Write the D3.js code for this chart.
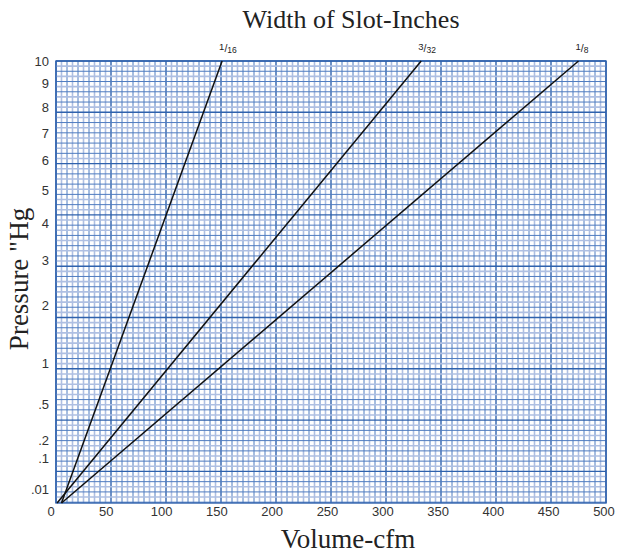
<!DOCTYPE html>
<html><head><meta charset="utf-8">
<script src="https://cdn.jsdelivr.net/npm/d3@7/dist/d3.min.js"></script>
<style>body{margin:0;background:#fff}</style>
</head><body>
<svg id="c" width="617" height="554"></svg>
<script>
// ---- data ----
const xTicks = [0,50,100,150,200,250,300,350,400,450,500];
const yTicks = [10,9,8,7,6,5,4,3,2,1,0.5,0.2,0.1,0.01];
const yTickLabels = ["10","9","8","7","6","5","4","3","2","1",".5",".2",".1",".01"];
const seriesNames = ["1/16","3/32","1/8"];
const labelNum = ["1","3","1"];
const labelDen = ["16","32","8"];
const volStart = [5, 1, 5];      // cfm at 0 "Hg
const volEnd = [151, 332, 475];  // cfm at 10 "Hg
const pEnd = 10;

const svg = d3.select("#c");
const m = {l:56, r:606, t:61, b:503};
const x = d3.scaleLinear().domain([0,500]).range([m.l, m.r]);
const y = d3.scaleSqrt().domain([0,10]).range([m.b, m.t]);

// graph paper grid
const g = svg.append("g");
const vx = d3.range(0, 501, 5);
g.selectAll("line.v").data(vx).join("line")
  .attr("x1", d=>x(d)).attr("x2", d=>x(d)).attr("y1", m.t).attr("y2", m.b)
  .attr("stroke", d => d%50===0 ? "#2f62ad" : (d%10===0 ? "#4f7cc0" : "#aebfe2"))
  .attr("stroke-width", d => d%50===0 ? 1.4 : (d%10===0 ? 1 : 1.6));
const rowH = 5.13;
const rows = d3.range(0, Math.floor((m.b-m.t)/rowH)+1);
g.selectAll("line.h").data(rows).join("line")
  .attr("x1", m.l).attr("x2", m.r)
  .attr("y1", d=>m.t + d*rowH).attr("y2", d=>m.t + d*rowH)
  .attr("stroke", d => d%10===0 ? "#2f62ad" : (d%2===0 ? "#4f7cc0" : "#aebfe2"))
  .attr("stroke-width", d => d%10===0 ? 1.4 : (d%2===0 ? 1 : 1.6));
svg.append("rect").attr("x", m.l).attr("y", m.t).attr("width", m.r-m.l).attr("height", m.b-m.t)
  .attr("fill","none").attr("stroke","#2f62ad").attr("stroke-width",1.4);

// curves
const series = seriesNames.map((n,i)=>({name:n, pts:[[volStart[i],0],[volEnd[i],pEnd]]}));
const line = d3.line().x(d=>x(d[0])).y(d=>y(d[1]));
svg.selectAll("path.s").data(series).join("path")
  .attr("d", d=>line(d.pts)).attr("fill","none").attr("stroke","#111").attr("stroke-width",1.5);

// series labels
series.forEach((s,i)=>{
  const t = svg.append("text").attr("x", x(volEnd[i])-3).attr("y", y(pEnd)-9)
    .attr("font-family","Liberation Sans, Arial, sans-serif").attr("font-size",9.5).attr("fill","#222");
  t.append("tspan").text(labelNum[i]).attr("dy",-2);
  t.append("tspan").text("/").attr("font-size",10.5).attr("dy",2);
  t.append("tspan").text(labelDen[i]).attr("font-size",8.5).attr("dy",1);
});

// axes tick labels
svg.selectAll("text.xt").data(xTicks).join("text")
  .attr("x", d=>x(d)-5+d*0.006).attr("y", 516)
  .attr("text-anchor","middle").attr("font-family","Liberation Sans, Arial, sans-serif")
  .attr("font-size",13).attr("fill","#333").text(d=>d);
svg.selectAll("text.yt").data(yTicks).join("text")
  .attr("x", 49).attr("y", d=>y(d)+4.5)
  .attr("text-anchor","end").attr("font-family","Liberation Sans, Arial, sans-serif")
  .attr("font-size",13).attr("fill","#333").text((d,i)=>yTickLabels[i]);

// titles
svg.append("text").attr("x",351).attr("y",28).attr("text-anchor","middle")
  .attr("font-family","Liberation Serif, Times New Roman, serif").attr("font-size",26).attr("fill","#222")
  .text("Width of Slot-Inches");
svg.append("text").attr("x",348).attr("y",548).attr("text-anchor","middle")
  .attr("font-family","Liberation Serif, Times New Roman, serif").attr("font-size",27).attr("fill","#222")
  .text("Volume-cfm");
svg.append("text").attr("transform","translate(28,279) rotate(-90)").attr("text-anchor","middle")
  .attr("font-family","Liberation Serif, Times New Roman, serif").attr("font-size",27).attr("fill","#222")
  .text("Pressure \"Hg");
</script>
</body></html>
